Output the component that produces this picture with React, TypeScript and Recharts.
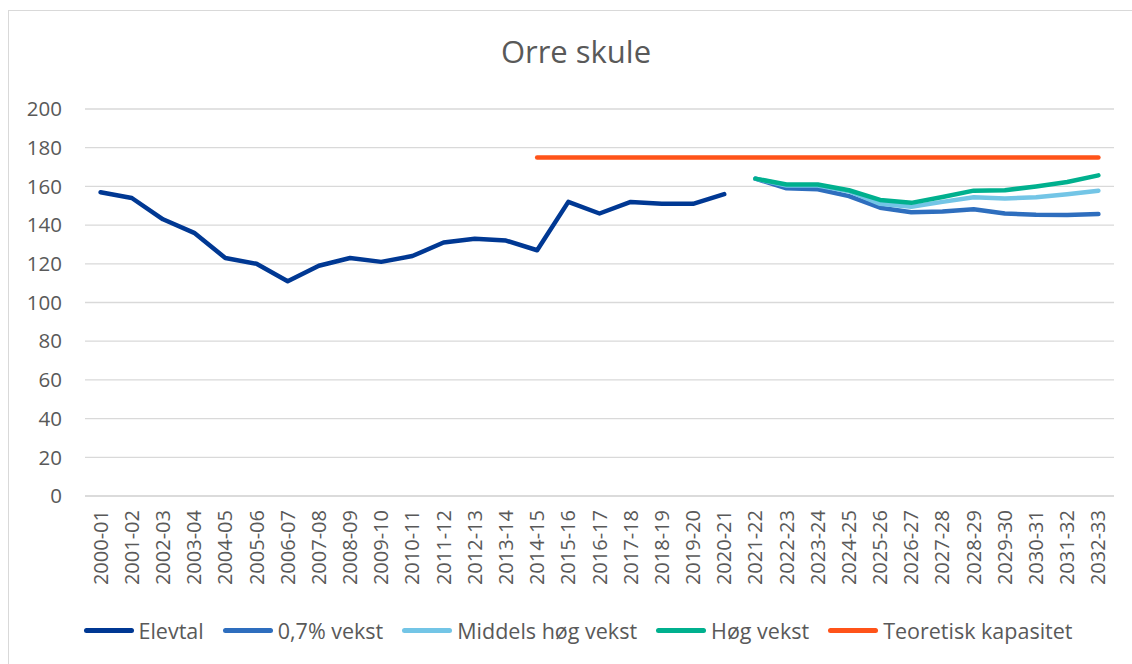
import React from 'react';
import { LineChart, Line, XAxis, YAxis, CartesianGrid } from 'recharts';

const categories = [
  '2000-01','2001-02','2002-03','2003-04','2004-05','2005-06','2006-07','2007-08','2008-09','2009-10',
  '2010-11','2011-12','2012-13','2013-14','2014-15','2015-16','2016-17','2017-18','2018-19','2019-20',
  '2020-21','2021-22','2022-23','2023-24','2024-25','2025-26','2026-27','2027-28','2028-29','2029-30',
  '2030-31','2031-32','2032-33',
];

const elevtal = [157,154,143,136,123,120,111,119,123,121,124,131,133,132,127,152,146,152,151,151,156];
// projections start at 2021-22 (index 21)
const vekst07 = [164,159,158.5,155,149,146.6,147,148.2,146,145.3,145.2,145.7];
const middels = [164,160.5,160.5,157.5,151,149.5,152,154.4,153.7,154.4,156,157.8];
const hog = [164,161,161,158,153,151.5,154.5,157.8,158,160,162.3,165.7];
const kapasitet = 175;
const kapasitetStart = 14;
const projStart = 21;

const yTicks = [0,20,40,60,80,100,120,140,160,180,200];

const data = categories.map((c, i) => ({
  cat: c,
  elevtal: i < elevtal.length ? elevtal[i] : null,
  vekst07: i >= projStart ? vekst07[i - projStart] : null,
  middels: i >= projStart ? middels[i - projStart] : null,
  hog: i >= projStart ? hog[i - projStart] : null,
  kapasitet: i >= kapasitetStart ? kapasitet : null,
}));

const series = [
  { key: 'elevtal', name: 'Elevtal', color: '#003893' },
  { key: 'vekst07', name: '0,7% vekst', color: '#2E6EBE' },
  { key: 'middels', name: 'Middels høg vekst', color: '#73C5E6' },
  { key: 'hog', name: 'Høg vekst', color: '#00B08E' },
  { key: 'kapasitet', name: 'Teoretisk kapasitet', color: '#FF5319' },
];

const FONT = '"Open Sans", sans-serif';
const TXT = '#595959';

const XTick = (props: any) => {
  const { x, y, payload } = props;
  return (
    <text x={x} y={y} transform={`rotate(-90, ${x}, ${y})`} dx={-6} dy={7}
      textAnchor="end" fill={TXT} fontSize={20} fontFamily={FONT}>
      {payload.value}
    </text>
  );
};

export default function App() {
  return (
    <div style={{ position: 'fixed', left: 0, top: 0, width: 1132, height: 664, background: '#fff', overflow: 'hidden' }}>
      <div style={{ position: 'absolute', left: 8, top: 10, width: 1200, height: 700, border: '1px solid #d9d9d9', boxSizing: 'border-box' }} />
      <div style={{ position: 'absolute', left: 0, width: 1152, top: 30, textAlign: 'center', fontFamily: FONT, fontSize: 31, color: TXT }}>
        Orre skule
      </div>
      <div style={{ position: 'absolute', left: 0, top: 0 }}>
        <LineChart width={1132} height={664} data={data}
          margin={{ top: 109, right: 18, bottom: 0, left: 0 }}>
          <CartesianGrid vertical={false} stroke="#d9d9d9" strokeWidth={1.3} />
          <XAxis dataKey="cat" interval={0} height={168} tick={<XTick />} padding={{ left: 15.6, right: 15.6 }}
            tickLine={false} axisLine={{ stroke: '#d9d9d9', strokeWidth: 1.3 }} />
          <YAxis width={85} domain={[0, 200]} ticks={yTicks} axisLine={false} tickLine={false} tickSize={0}
            tick={{ fill: TXT, fontSize: 20.5, fontFamily: FONT }} tickMargin={23} />
          {series.map(s => (
            <Line key={s.key} dataKey={s.key} name={s.name} stroke={s.color} strokeWidth={4.5}
              dot={false} isAnimationActive={false} strokeLinecap="round" strokeLinejoin="round" />
          ))}
        </LineChart>
      </div>
      <div style={{ position: 'absolute', left: 0, width: 1156, top: 616, display: 'flex', justifyContent: 'center', alignItems: 'center', fontFamily: FONT, fontSize: 21.5, color: TXT }}>
        {series.map((s, i) => (
          <div key={s.key} style={{ display: 'flex', alignItems: 'center', marginLeft: i === 0 ? 0 : 19 }}>
            <div style={{ width: 50, height: 5, borderRadius: 3, background: s.color, marginRight: 5 }} />
            <span>{s.name}</span>
          </div>
        ))}
      </div>
    </div>
  );
}
